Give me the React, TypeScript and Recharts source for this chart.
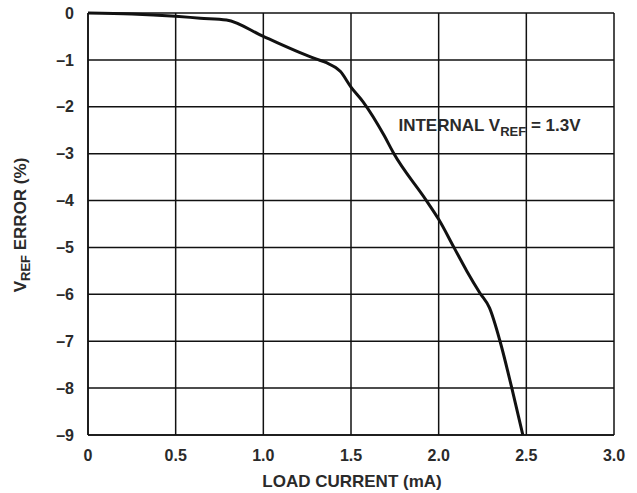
import { LineChart, Line, XAxis, YAxis, CartesianGrid, ReferenceDot } from 'recharts';

// load current (mA) vs. reference error (%)
const loadCurrent = [0, 0.25, 0.5, 0.64, 0.79, 1.0, 1.3, 1.36, 1.44, 1.5, 1.57, 1.69, 1.74, 1.93, 2.0, 2.09, 2.16, 2.235, 2.29, 2.35, 2.416, 2.48];
const refError = [0, -0.02, -0.07, -0.11, -0.15, -0.5, -0.98, -1.06, -1.25, -1.58, -1.9, -2.62, -2.97, -4.0, -4.4, -5.02, -5.5, -5.97, -6.29, -7.0, -7.98, -9];

const xTicks = [0, 0.5, 1.0, 1.5, 2.0, 2.5, 3.0];
const yTicks = [0, -1, -2, -3, -4, -5, -6, -7, -8, -9];

const noteX = 2.29;
const noteY = -2.5;

const FONT = '"Liberation Sans", Arial, sans-serif';
const INK = '#111';
const TEXT = '#2a2a2a';

const data = loadCurrent.map((x, i) => ({ x, err: refError[i] }));

const fmtX = (v: number) => (v === 0 ? '0' : v.toFixed(1));
const fmtY = (v: number) => (v === 0 ? '0' : '\u2013' + Math.abs(v));

function YTitle(props: any) {
  const { viewBox } = props;
  const cx = 20;
  const cy = viewBox.y + viewBox.height / 2 + 1;
  return (
    <text
      x={cx}
      y={cy}
      transform={`rotate(-90, ${cx}, ${cy})`}
      textAnchor="middle"
      dominantBaseline="central"
      fontFamily={FONT}
      fontWeight="bold"
      fontSize={17}
      fill={TEXT}
    >
      V<tspan fontSize={13} dy={5}>REF</tspan>
      <tspan dy={-5}> ERROR (%)</tspan>
    </text>
  );
}

function XTitle(props: any) {
  const { viewBox } = props;
  return (
    <text
      x={viewBox.x + viewBox.width / 2 + 1}
      y={487}
      textAnchor="middle"
      fontFamily={FONT}
      fontWeight="bold"
      fontSize={17}
      fill={TEXT}
    >
      LOAD CURRENT (mA)
    </text>
  );
}

function Note(props: any) {
  const { viewBox } = props;
  return (
    <text
      x={viewBox.cx ?? viewBox.x}
      y={(viewBox.cy ?? viewBox.y) + 1}
      textAnchor="middle"
      fontFamily={FONT}
      fontWeight="bold"
      fontSize={17}
      fill={TEXT}
    >
      INTERNAL V<tspan fontSize={13} dy={5}>REF</tspan>
      <tspan dy={-5}> = 1.3V</tspan>
    </text>
  );
}

export default function App() {
  return (
    <div style={{ position: 'fixed', top: 0, left: 0, width: 637, height: 493, background: '#fff' }}>
      <LineChart width={637} height={493} data={data} margin={{ top: 13, right: 23, bottom: 0, left: 0 }}>
        <CartesianGrid stroke={INK} strokeWidth={1.5} horizontalValues={yTicks} verticalValues={xTicks} />
        <XAxis
          dataKey="x"
          type="number"
          domain={[0, 3]}
          ticks={xTicks}
          tickFormatter={fmtX}
          height={58}
          tickSize={0}
          tickMargin={15}
          axisLine={{ stroke: INK, strokeWidth: 1.5 }}
          tick={{ fontFamily: FONT, fontWeight: 'bold', fontSize: 16, fill: TEXT }}
          label={<XTitle />}
        />
        <YAxis
          type="number"
          domain={[-9, 0]}
          ticks={yTicks}
          tickFormatter={fmtY}
          width={88}
          tickSize={0}
          tickMargin={14}
          axisLine={{ stroke: INK, strokeWidth: 1.5 }}
          tick={{ fontFamily: FONT, fontWeight: 'bold', fontSize: 16, fill: TEXT }}
          label={<YTitle />}
        />
        <ReferenceDot x={noteX} y={noteY} r={0} stroke="none" fill="none" label={<Note />} />
        <Line
          type="monotone"
          dataKey="err"
          stroke={INK}
          strokeWidth={3}
          dot={false}
          activeDot={false}
          isAnimationActive={false}
        />
      </LineChart>
    </div>
  );
}
